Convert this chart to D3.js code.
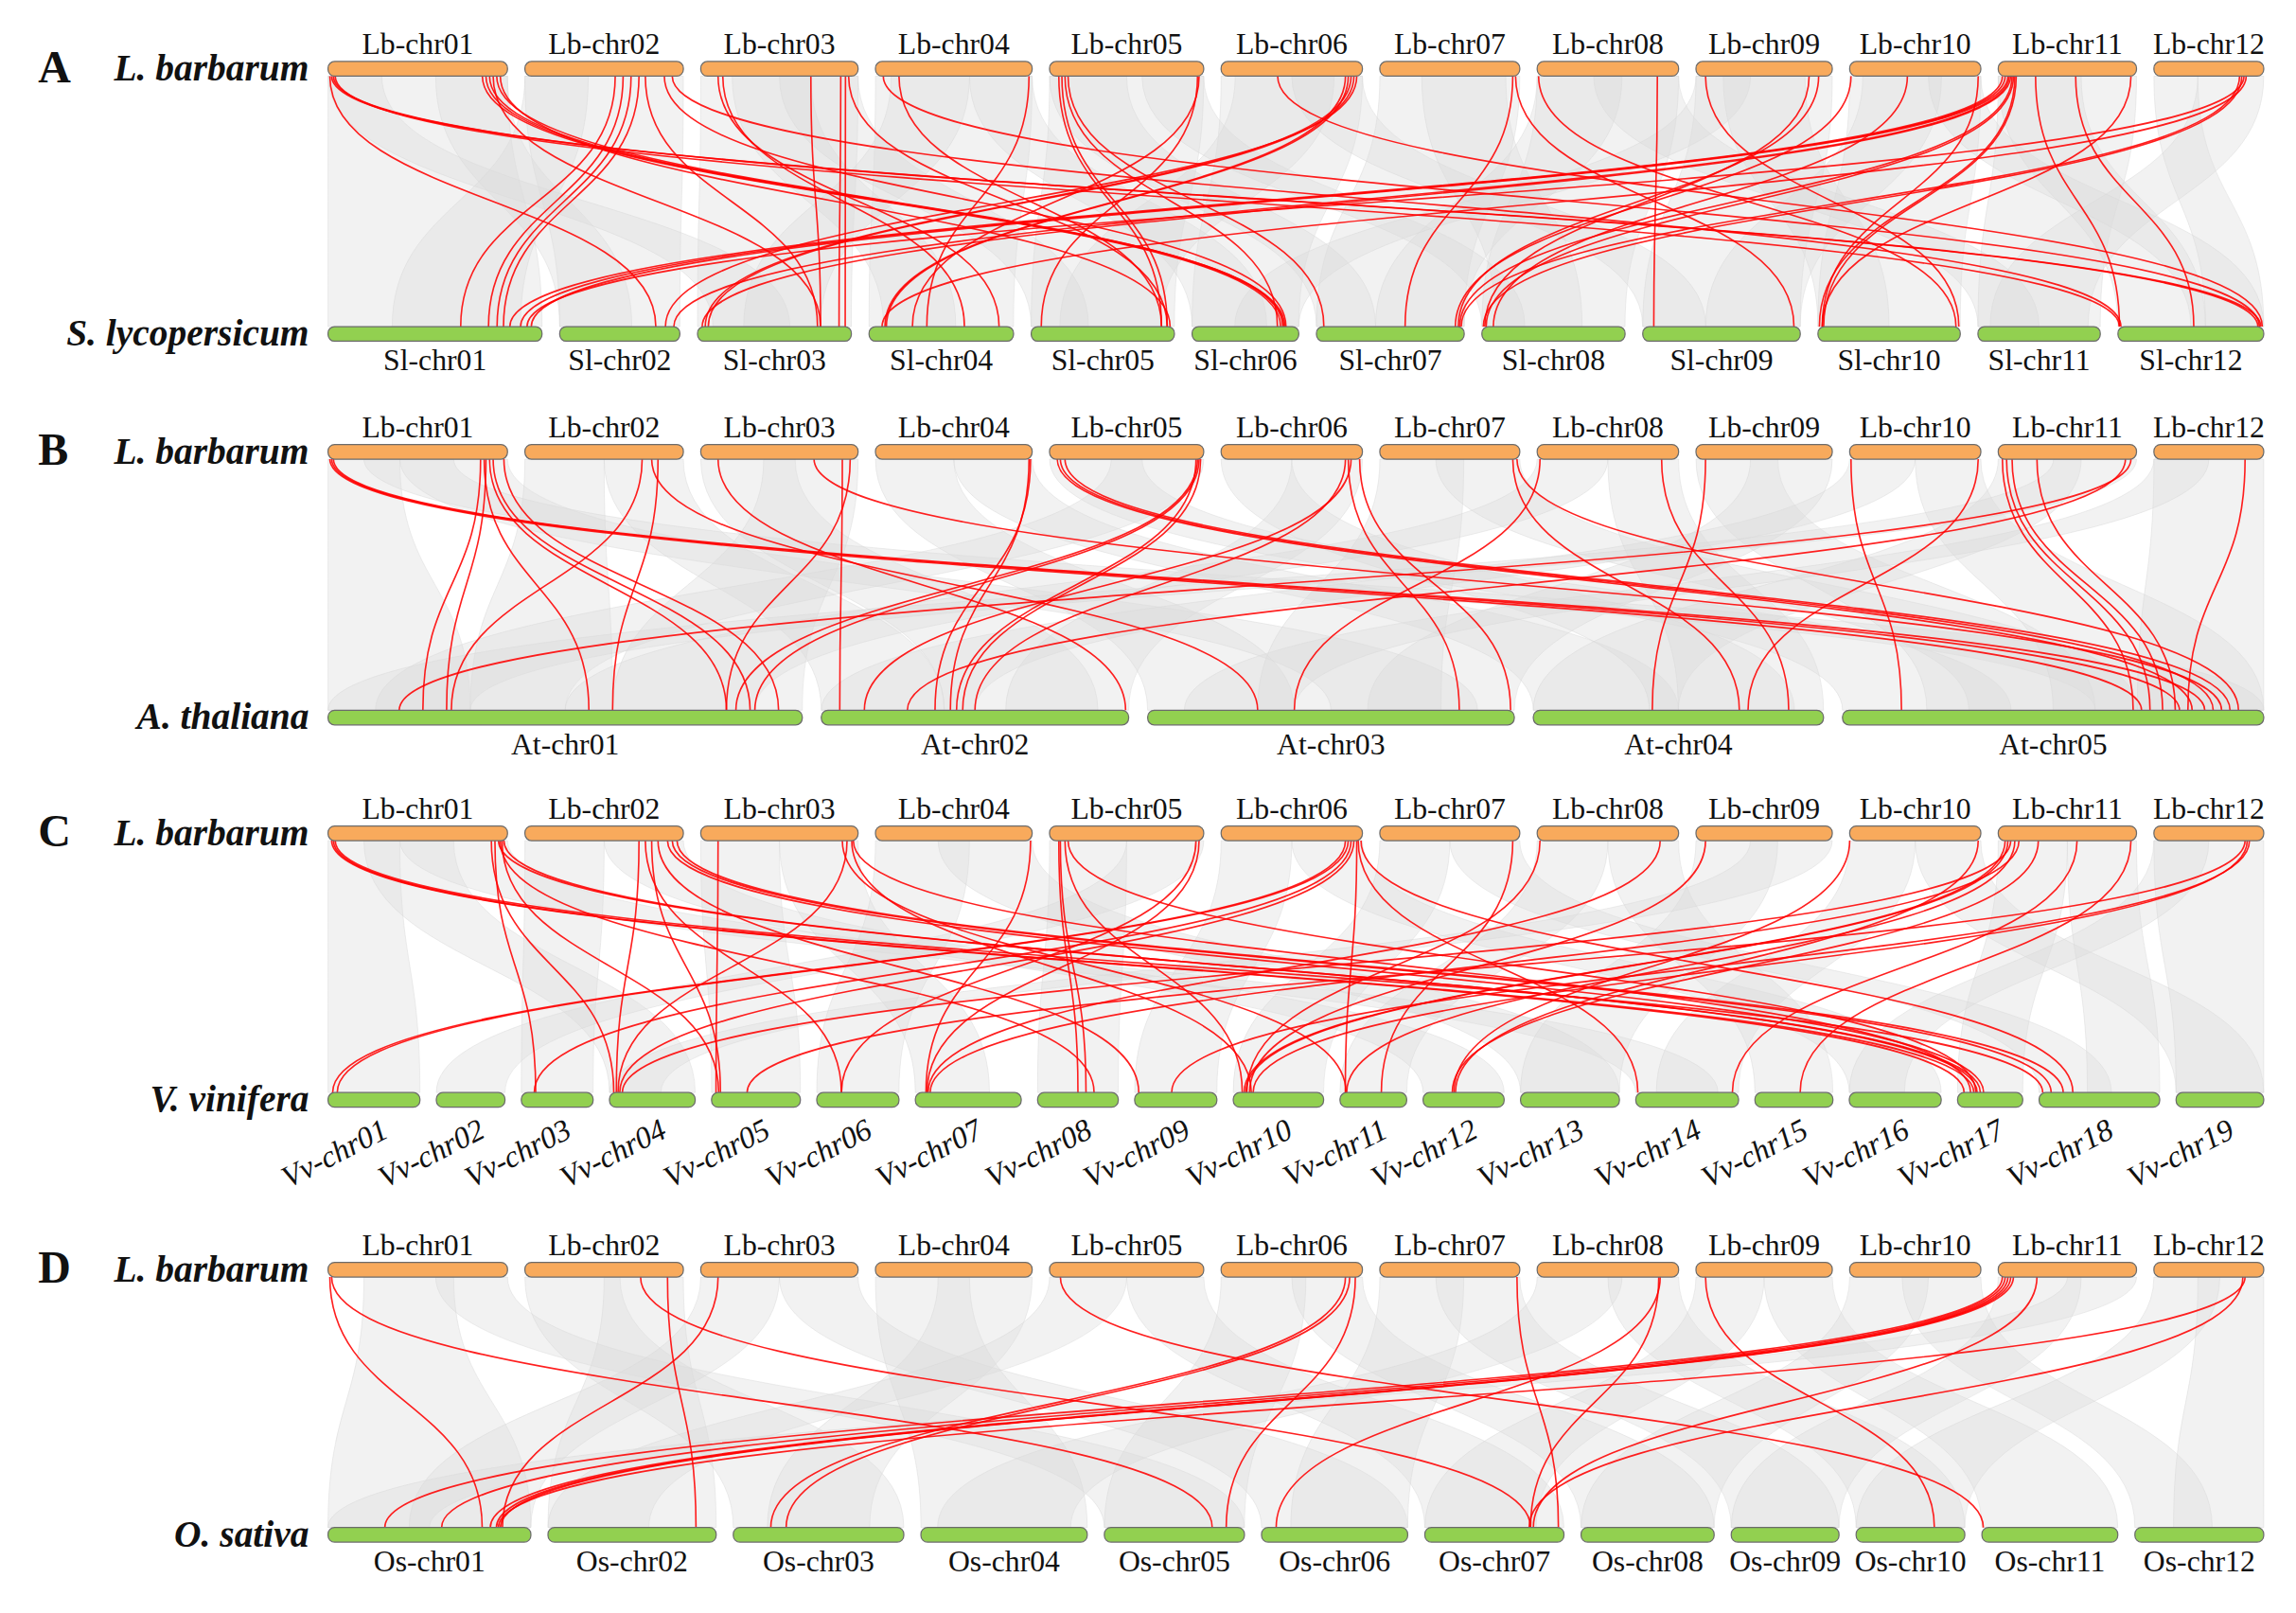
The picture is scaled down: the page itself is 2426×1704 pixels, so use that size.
<!DOCTYPE html>
<html>
<head>
<meta charset="utf-8">
<script src="https://cdn.jsdelivr.net/npm/d3@7"></script>
<style>
  html, body { margin: 0; padding: 0; background: #fff; }
  svg { display: block; }
  text { font-family: "Liberation Serif", "Times New Roman", serif; fill: #111; }
</style>
</head>
<body>
<svg id="chart" width="2426" height="1704" viewBox="0 0 1568 1101.4"></svg>
<script>
// chromosome names and lengths (Mb)
const lbNames = ["Lb-chr01","Lb-chr02","Lb-chr03","Lb-chr04","Lb-chr05","Lb-chr06","Lb-chr07","Lb-chr08","Lb-chr09","Lb-chr10","Lb-chr11","Lb-chr12"];
const lbLengths = [171.6, 151.5, 150.4, 149.8, 147.4, 135.1, 133.8, 135.2, 130.3, 125.4, 132.2, 105.0];

const slNames = ["Sl-chr01","Sl-chr02","Sl-chr03","Sl-chr04","Sl-chr05","Sl-chr06","Sl-chr07","Sl-chr08","Sl-chr09","Sl-chr10","Sl-chr11","Sl-chr12"];
const slLengths = [98.5, 55.3, 70.8, 66.5, 65.9, 49.1, 68.0, 65.9, 72.5, 65.5, 56.3, 67.1];

const atNames = ["At-chr01","At-chr02","At-chr03","At-chr04","At-chr05"];
const atLengths = [30.4, 19.7, 23.5, 18.6, 27.0];

const vvNames = ["Vv-chr01","Vv-chr02","Vv-chr03","Vv-chr04","Vv-chr05","Vv-chr06","Vv-chr07","Vv-chr08","Vv-chr09","Vv-chr10",
                 "Vv-chr11","Vv-chr12","Vv-chr13","Vv-chr14","Vv-chr15","Vv-chr16","Vv-chr17","Vv-chr18","Vv-chr19"];
const vvLengths = [23.7, 17.7, 18.5, 22.1, 22.9, 21.2, 27.3, 20.8, 21.2, 23.3, 17.2, 20.9, 25.5, 26.5, 20.1, 23.7, 16.8, 31.1, 22.6];

const osNames = ["Os-chr01","Os-chr02","Os-chr03","Os-chr04","Os-chr05","Os-chr06","Os-chr07","Os-chr08","Os-chr09","Os-chr10","Os-chr11","Os-chr12"];
const osLengths = [43.3, 35.9, 36.4, 35.5, 29.9, 31.2, 29.7, 28.4, 23.0, 23.2, 29.0, 27.5];

// collinear gene pairs of the family: [Lb chr, pos %, other chr, pos %]
const linksA = [
  [1,1,2,80],[1,2,12,96],[1,3,12,98],[1,4,12,1],[1,86,6,83],[1,88,6,85],[1,90,6,87],[1,92,3,80],
  [1,94,6,86],[1,96,5,97],[2,57,1,62],[2,62,1,75],[2,67,1,79],[2,72,1,82],[2,76,3,78],[2,88,6,88],
  [2,93,12,2],[3,11,4,90],[3,14,4,66],[3,70,3,80],[3,89,3,92],[3,92,3,96],[3,94,5,95],[4,15,5,91],
  [4,98,4,40],[5,6,5,91],[5,8,5,95],[5,10,6,80],[5,12,7,5],[5,96,5,7],[5,97,4,30],[6,88,4,11],
  [6,90,4,12],[6,92,3,5],[6,94,3,7],[6,96,2,88],[7,95,7,60],[7,97,9,96],[8,85,9,7],[8,1,10,97],
  [9,7,10,99],[9,83,8,2],[9,90,7,96],[10,1,7,94],[10,44,8,8],[10,98,10,3],[11,3,1,85],[11,5,1,90],
  [11,7,1,95],[11,8,2,95],[11,9,3,3],[11,10,7,97],[11,11,8,3],[11,12,10,1],[11,13,10,4],[11,27,12,1],
  [11,56,12,52],[11,96,10,3],[12,78,7,98],[12,80,8,1],[12,82,1,93],[12,84,4,9],[4,5,12,97],[6,40,12,99]
];
const linksB = [
  [1,1,5,71],[1,2,5,80],[1,3,5,86],[1,85,1,20],[1,88,1,25],[1,90,1,84],[1,92,1,89],[1,87,1,55],
  [1,98,1,95],[2,74,1,26],[2,84,1,60],[2,80,3,30],[3,11,2,99],[3,72,5,90],[3,90,2,6],[3,95,1,84],
  [4,99,2,37],[4,98,2,42],[5,5,5,83],[5,7,5,88],[5,10,5,92],[5,96,1,86],[5,97,1,90],[5,95,2,44],
  [5,98,2,46],[6,90,3,85],[6,98,3,99],[6,92,2,14],[7,95,4,71],[7,98,5,94],[8,88,4,88],[9,7,4,41],
  [10,1,5,14],[10,98,4,74],[11,3,5,69],[11,6,5,73],[11,10,5,76],[11,28,5,79],[11,96,1,15],[11,92,2,28],
  [12,83,5,82],[8,2,3,40],[6,88,2,50]
];
const linksC = [
  [1,2,17,10],[1,3,17,25],[1,4,18,3],[1,91,4,5],[1,93,3,20],[1,95,17,35],[1,96,8,70],[1,97,5,8],
  [2,72,4,8],[2,76,6,30],[2,80,5,10],[2,84,9,5],[2,90,17,40],[2,93,18,10],[2,96,18,20],[3,11,5,5],
  [3,90,11,9],[3,93,4,10],[3,96,10,20],[4,99,7,10],[5,7,8,60],[5,10,10,10],[5,95,6,30],[5,97,7,11],
  [6,88,1,5],[6,90,1,10],[6,92,3,18],[6,94,4,12],[6,96,11,8],[6,97,14,2],[7,95,11,62],[8,2,10,15],
  [8,87,7,12],[9,7,10,18],[10,0,12,38],[10,98,12,40],[11,5,10,12],[11,7,10,14],[11,9,4,15],[11,12,11,10],
  [11,15,7,14],[11,29,12,36],[11,57,14,94],[11,96,15,58],[12,83,5,40],[12,85,10,22],[12,87,9,45],[1,98,17,30],
  [3,97,17,20],[5,12,17,28],[6,99,18,28],[5,6,8,50]
];
const linksD = [
  [1,1,1,76],[1,2,5,77],[2,73,7,76],[2,90,2,88],[3,11,1,86],[5,7,11,1],[6,88,3,22],[6,91,3,31],
  [6,95,5,87],[7,98,7,96],[8,87,6,10],[8,86,7,76],[9,7,10,72],[11,3,1,28],[11,5,1,56],[11,7,1,80],
  [11,9,1,83],[11,11,1,85],[11,28,7,78],[12,83,1,84],[12,81,7,75]
];

// genome-wide syntenic blocks (background): [Lb chr, start %, end %, other chr, start %, end %]
const blocksA = [
  [1,0,100,1,0,100],[2,0,100,2,0,100],[3,0,100,3,0,100],[4,0,100,4,0,100],[5,0,100,5,0,100],[6,0,100,6,0,100],
  [7,0,100,7,0,100],[8,0,100,8,0,100],[9,0,100,9,0,100],[10,0,100,10,0,100],[11,0,100,11,0,100],[12,0,40,12,60,100],
  [1,0,30,3,10,60],[1,60,100,2,0,60],[2,0,40,1,30,90],[3,20,70,4,10,60],[4,10,60,3,30,80],[4,60,100,6,0,70],
  [5,0,50,7,0,40],[6,10,80,5,20,90],[7,30,90,8,10,70],[8,0,60,7,40,100],[9,20,80,10,0,50],[10,10,70,9,40,100],
  [11,0,60,12,0,60],[12,40,100,11,10,90],[10,60,100,12,50,100],[6,50,100,9,0,40],[8,40,100,11,0,50],
  [3,50,100,5,0,40],[5,60,100,8,0,30],[9,0,40,6,40,100]
];
const blocksB = [
  [1,0,40,1,0,30],[1,40,100,3,50,90],[1,20,70,5,60,100],[2,0,50,1,30,60],[2,50,100,2,0,40],
  [3,0,60,2,40,90],[3,40,100,1,60,100],[4,0,50,3,0,40],[4,50,100,4,0,50],[5,0,60,5,0,40],
  [5,40,100,1,10,50],[6,0,50,4,40,90],[6,50,100,2,60,100],[7,0,60,3,30,80],[7,40,100,5,30,70],
  [8,0,50,1,50,90],[8,50,100,4,50,100],[9,0,60,5,20,60],[9,40,100,3,60,100],[10,0,50,2,0,50],
  [10,50,100,5,50,100],[11,0,60,4,0,50],[11,40,100,1,0,30],[12,0,100,5,70,100],[12,0,50,3,10,40]
];
const blocksC = [
  [1,0,40,1,0,100],[1,40,100,14,0,80],[1,20,70,4,0,100],[2,0,50,3,0,100],[2,50,100,12,0,100],
  [3,0,50,5,0,100],[3,50,100,7,0,70],[4,0,60,6,0,100],[4,40,100,13,0,100],[5,0,50,8,0,100],
  [5,50,100,2,0,100],[6,0,50,9,0,100],[6,50,100,16,0,100],[7,0,50,10,0,100],[7,50,100,18,0,60],
  [8,0,50,11,0,100],[8,50,100,15,0,100],[9,0,60,13,0,100],[9,40,100,4,0,60],[10,0,50,14,20,100],
  [10,50,100,19,0,100],[11,0,50,17,0,100],[11,50,100,18,40,100],[12,0,100,19,0,100],[12,0,50,16,0,60]
];
const blocksD = [
  [1,20,70,1,0,100],[1,60,100,5,0,100],[2,0,60,3,0,100],[2,50,100,2,0,100],[3,0,50,1,40,100],
  [3,50,100,6,0,100],[4,0,60,4,0,100],[4,40,100,3,20,80],[5,0,50,2,0,60],[5,50,100,7,0,100],
  [6,0,60,5,0,100],[6,50,100,8,0,100],[7,0,60,6,20,100],[7,40,100,9,0,100],[8,0,60,4,10,90],
  [8,50,100,10,0,100],[9,0,50,7,0,80],[9,50,100,11,0,100],[10,0,60,8,0,100],[10,40,100,12,0,60],
  [11,0,60,9,0,100],[11,50,100,1,0,50],[12,0,60,10,0,100],[12,40,100,12,30,100]
];

const panelLetters = ["A", "B", "C", "D"];
const species = ["L. barbarum", "S. lycopersicum", "A. thaliana", "V. vinifera", "O. sativa"];

// layout
const svg = d3.select("#chart");
const X0 = 224, X1 = 1546;
const barH = 10;

function layoutRow(lengths, gap) {
  const k = (X1 - X0 - gap * (lengths.length - 1)) / d3.sum(lengths);
  let x = X0;
  return lengths.map(len => {
    const s = d3.scaleLinear().domain([0, 100]).range([x, x + len * k]);
    x += len * k + gap;
    return s;
  });
}

const panels = [
  { letter: panelLetters[0], other: species[1], names: slNames, lens: slLengths, gap: 12.1, links: linksA, blocks: blocksA, yTop: 47, yBot: 228 },
  { letter: panelLetters[1], other: species[2], names: atNames, lens: atLengths, gap: 13, links: linksB, blocks: blocksB, yTop: 308.5, yBot: 490 },
  { letter: panelLetters[2], other: species[3], names: vvNames, lens: vvLengths, gap: 11.2, links: linksC, blocks: blocksC, yTop: 569, yBot: 751, rotate: true },
  { letter: panelLetters[3], other: species[4], names: osNames, lens: osLengths, gap: 11.7, links: linksD, blocks: blocksD, yTop: 867, yBot: 1048 }
];

const lbScales = layoutRow(lbLengths, 11.9);
const linkGen = d3.link(d3.curveBumpY).x(d => d[0]).y(d => d[1]);

function ribbon(a0, a1, ya, b0, b1, yb) {
  const ym = (ya + yb) / 2;
  const p = d3.path();
  p.moveTo(a0, ya);
  p.bezierCurveTo(a0, ym, b0, ym, b0, yb);
  p.lineTo(b1, yb);
  p.bezierCurveTo(b1, ym, a1, ym, a1, ya);
  p.closePath();
  return p.toString();
}

panels.forEach(pn => {
  const g = svg.append("g");
  const otherScales = layoutRow(pn.lens, pn.gap);
  const ya = pn.yTop + barH / 2, yb = pn.yBot - barH / 2;

  // grey background synteny
  g.append("g").selectAll("path").data(pn.blocks).join("path")
    .attr("d", d => ribbon(lbScales[d[0] - 1](d[1]), lbScales[d[0] - 1](d[2]), ya,
                           otherScales[d[3] - 1](d[4]), otherScales[d[3] - 1](d[5]), yb))
    .attr("fill", "#dadada")
    .attr("fill-opacity", 0.36)
    .attr("stroke", "#d8d8d8")
    .attr("stroke-opacity", 0.6)
    .attr("stroke-width", 0.5);

  // red links
  g.append("g").selectAll("path").data(pn.links).join("path")
    .attr("d", d => linkGen({ source: [lbScales[d[0] - 1](d[1]), ya], target: [otherScales[d[2] - 1](d[3]), yb] }))
    .attr("fill", "none")
    .attr("stroke", "#ff0000")
    .attr("stroke-opacity", 0.88)
    .attr("stroke-width", 1.05);

  // chromosome bars
  const bar = (sel, scales, y, fill) => sel.selectAll("rect").data(scales).join("rect")
    .attr("x", s => s.range()[0])
    .attr("width", s => s.range()[1] - s.range()[0])
    .attr("y", y - barH / 2)
    .attr("height", barH)
    .attr("rx", 4.5)
    .attr("fill", fill)
    .attr("stroke", "#6b6b6b")
    .attr("stroke-width", 0.8);
  bar(g.append("g"), lbScales, pn.yTop, "#f8aa5c");
  bar(g.append("g"), otherScales, pn.yBot, "#92d050");

  // chromosome labels
  g.append("g").selectAll("text").data(lbNames).join("text")
    .attr("x", (d, i) => d3.mean(lbScales[i].range()))
    .attr("y", pn.yTop - 10)
    .attr("text-anchor", "middle")
    .attr("font-size", 20.5)
    .text(d => d);

  if (pn.rotate) {
    g.append("g").selectAll("text").data(pn.names).join("text")
      .attr("transform", (d, i) => `translate(${d3.mean(otherScales[i].range()) + 11},${pn.yBot + 25}) rotate(-27)`)
      .attr("text-anchor", "end")
      .attr("font-size", 21)
      .attr("font-style", "italic")
      .text(d => d);
  } else {
    g.append("g").selectAll("text").data(pn.names).join("text")
      .attr("x", (d, i) => d3.mean(otherScales[i].range()))
      .attr("y", pn.yBot + 25)
      .attr("text-anchor", "middle")
      .attr("font-size", 20.5)
      .text(d => d);
  }

  // species and panel letter
  g.append("text").attr("x", 211).attr("y", pn.yTop + 8).attr("text-anchor", "end")
    .attr("font-size", 25.5).attr("font-weight", "bold").attr("font-style", "italic").text(species[0]);
  g.append("text").attr("x", 211).attr("y", pn.yBot + 8).attr("text-anchor", "end")
    .attr("font-size", 25.5).attr("font-weight", "bold").attr("font-style", "italic").text(pn.other);
  g.append("text").attr("x", 26).attr("y", pn.yTop + 9)
    .attr("font-size", 31).attr("font-weight", "bold").text(pn.letter);
});
</script>
</body>
</html>
